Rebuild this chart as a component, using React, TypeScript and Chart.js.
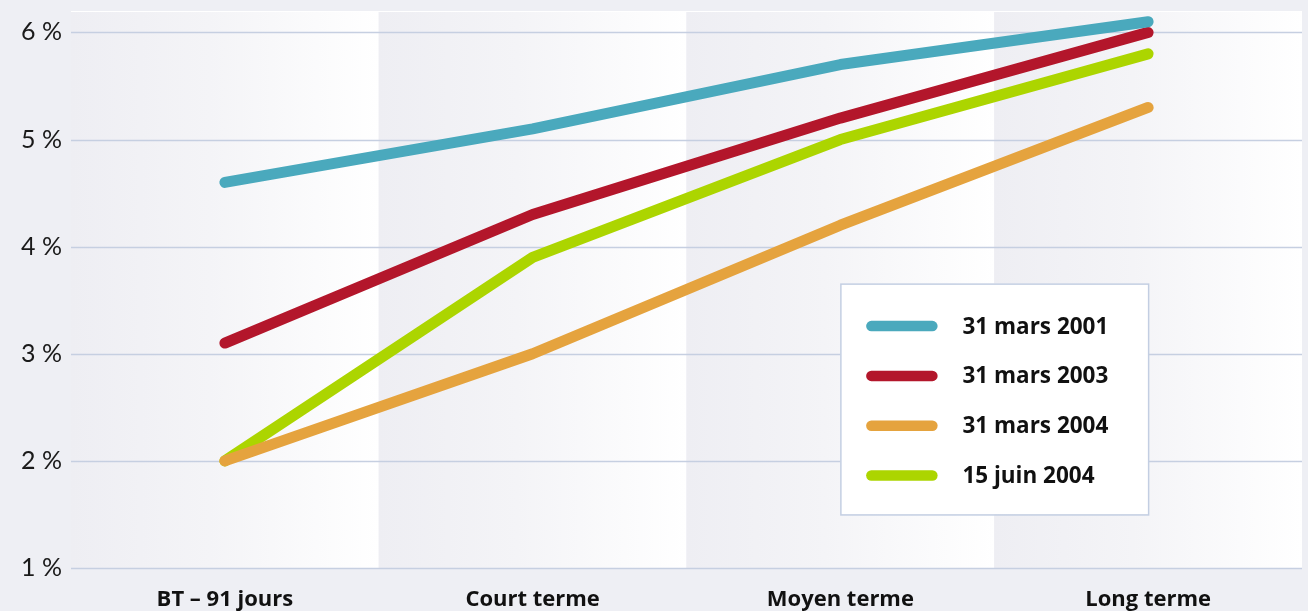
import React, { useEffect, useRef } from "react";
import { Chart, registerables } from "chart.js";

Chart.register(...registerables);

const categories = ["BT – 91 jours", "Court terme", "Moyen terme", "Long terme"];
const seriesLabels = ["31 mars 2001", "31 mars 2003", "31 mars 2004", "15 juin 2004"];
const mars2001 = [4.6, 5.1, 5.7, 6.1];
const mars2003 = [3.1, 4.3, 5.2, 6.0];
const mars2004 = [2.0, 3.0, 4.2, 5.3];
const juin2004 = [2.0, 3.9, 5.0, 5.8];
const seriesColors = ["#4aa9bd", "#b3162b", "#e5a33e", "#acd500"];
const yTicks = [1, 2, 3, 4, 5, 6];

const bandsPlugin = {
  id: "bands",
  beforeDatasetsDraw(chart: any) {
    const { ctx, chartArea } = chart;
    const n = categories.length;
    const w = (chartArea.right - chartArea.left) / n;
    ctx.save();
    for (let i = 0; i < n; i++) {
      const x0 = chartArea.left + i * w;
      const g = ctx.createLinearGradient(x0, 0, x0 + w, 0);
      g.addColorStop(0, "#eeeef3");
      g.addColorStop(0.45, "#f4f4f7");
      g.addColorStop(1, "#ffffff");
      ctx.fillStyle = g;
      ctx.fillRect(x0, chartArea.top, w, chartArea.bottom - chartArea.top);
    }
    ctx.fillStyle = "#ffffff";
    ctx.fillRect(chartArea.left, chartArea.top, chartArea.right - chartArea.left, 1);
    ctx.restore();
    const y = chart.scales.y;
    ctx.save();
    ctx.strokeStyle = "#c6cfe1";
    ctx.lineWidth = 1.5;
    yTicks.forEach((t) => {
      const py = Math.round(y.getPixelForValue(t)) + 0.5;
      ctx.beginPath();
      ctx.moveTo(chartArea.left, py);
      ctx.lineTo(chartArea.right, py);
      ctx.stroke();
    });
    ctx.restore();
  },
};

const legendPlugin = {
  id: "boxLegend",
  afterDatasetsDraw(chart: any) {
    const { ctx } = chart;
    const x = chart.scales.x;
    const y = chart.scales.y;
    const left = x.getPixelForValue(2);
    const right = x.getPixelForValue(3);
    const top = y.getPixelForValue(3.655);
    const bottom = y.getPixelForValue(1.5);
    ctx.save();
    ctx.fillStyle = "#ffffff";
    ctx.fillRect(left, top, right - left, bottom - top);
    ctx.strokeStyle = "#c3cee2";
    ctx.lineWidth = 1.5;
    ctx.strokeRect(left + 0.5, top + 0.5, right - left, bottom - top);
    chart.data.datasets.forEach((ds: any, i: number) => {
      const cy = top + 42.5 + i * 49.8;
      ctx.strokeStyle = ds.borderColor;
      ctx.lineWidth = 10.5;
      ctx.lineCap = "round";
      ctx.beginPath();
      ctx.moveTo(left + 31, cy);
      ctx.lineTo(left + 92, cy);
      ctx.stroke();
      ctx.fillStyle = "#111111";
      ctx.font = "bold 22.5px 'Open Sans'";
      ctx.textBaseline = "middle";
      ctx.textAlign = "left";
      ctx.fillText(ds.label, left + 122, cy + 1);
    });
    ctx.restore();
  },
};

export default function App() {
  const ref = useRef<HTMLCanvasElement>(null);
  useEffect(() => {
    if (!ref.current) return;
    const series = [mars2001, mars2003, mars2004, juin2004];
    const chart = new Chart(ref.current, {
      type: "line",
      data: {
        labels: categories,
        datasets: series.map((d, i) => ({
          label: seriesLabels[i],
          data: d,
          borderColor: seriesColors[i],
          backgroundColor: seriesColors[i],
          borderWidth: 11,
          borderCapStyle: "round",
          borderJoinStyle: "round",
          pointRadius: 0,
          tension: 0,
        })),
      },
      options: {
        animation: false,
        responsive: false,
        devicePixelRatio: 1,
        layout: { padding: { top: 11, right: 6, left: 0, bottom: 0 } },
        plugins: { legend: { display: false }, tooltip: { enabled: false } },
        scales: {
          x: {
            offset: true,
            grid: { display: false, drawTicks: false },
            border: { display: false },
            ticks: {
              color: "#111111",
              font: { family: "'Open Sans'", size: 22, weight: "bold" },
              padding: 19,
              maxRotation: 0,
              autoSkip: false,
            },
            afterFit: (s: any) => {
              s.height = 57;
            },
          },
          y: {
            min: 1,
            max: 6.2,
            grid: { display: false, drawTicks: false },
            border: { display: false },
            ticks: {
              stepSize: 1,
              includeBounds: false,
              color: "#1a1a1a",
              font: { family: "Lato", size: 25 },
              padding: 9,
              callback: (v: any) => `${v} %`,
            },
            afterFit: (s: any) => {
              s.width = 71;
              s.paddingTop = 0;
              s.paddingBottom = 0;
            },
          },
        },
      },
      plugins: [bandsPlugin, legendPlugin],
    } as any);
    return () => chart.destroy();
  }, []);
  return (
    <div
      style={{
        position: "fixed",
        left: 0,
        top: 0,
        width: 1308,
        height: 611,
        overflow: "hidden",
        background: "#eeeff4",
      }}
    >
      <canvas ref={ref} width={1308} height={625} style={{ width: 1308, height: 625, display: "block" }} />
    </div>
  );
}
